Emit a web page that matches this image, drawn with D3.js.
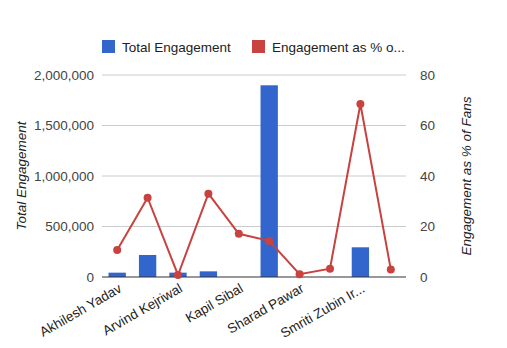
<!DOCTYPE html>
<html><head><meta charset="utf-8">
<script src="https://cdn.jsdelivr.net/npm/d3@7"></script>
<style>body{margin:0;background:#fff;}svg{display:block;font-family:Arial,"Liberation Sans",sans-serif;}</style>
</head><body>
<script>
const categories = ["Akhilesh Yadav","Arun Jaitley","Arvind Kejriwal","Digvijaya Singh","Kapil Sibal","Narendra Modi","Sharad Pawar","Shashi Tharoor","Smriti Zubin Irani","Sushma Swaraj"];
const shownLabels = ["Akhilesh Yadav","","Arvind Kejriwal","","Kapil Sibal","","Sharad Pawar","","Smriti Zubin Ir...",""];
const totalEngagement = [43000,218000,43000,56000,0,1898000,0,0,294000,0];
const engagementPct = [10.7,31.4,0.8,33.0,17.1,14.3,1.1,3.3,68.5,3.0];
const leftTicks = [0,500000,1000000,1500000,2000000];
const rightTicks = [0,20,40,60,80];
const seriesNames = ["Total Engagement","Engagement as % o..."];
const colors = ["#3366cc","#c8423f"];

const W=507,H=348, L=102, R=406, T=75, B=277, FS=13.5;
const svg=d3.select("body").append("svg").attr("width",W).attr("height",H);
const x=d3.scaleBand().domain(categories).range([L,R]).paddingInner(0.43).paddingOuter(0.215);
const yL=d3.scaleLinear().domain([0,2000000]).range([B,T]);
const yR=d3.scaleLinear().domain([0,80]).range([B,T]);

svg.append("g").selectAll("line").data(leftTicks.slice(1)).join("line")
 .attr("x1",L).attr("x2",R).attr("y1",d=>yL(d)).attr("y2",d=>yL(d))
 .attr("stroke","#cccccc").attr("stroke-width",1);

const fmt=d3.format(",");
svg.append("g").selectAll("text").data(leftTicks).join("text")
 .attr("x",94).attr("y",d=>yL(d)).attr("dy","0.35em").attr("text-anchor","end")
 .attr("font-size",FS).attr("fill","#444").text(d=>fmt(d));
svg.append("g").selectAll("text").data(rightTicks).join("text")
 .attr("x",420).attr("y",d=>yR(d)).attr("dy","0.35em").attr("text-anchor","start")
 .attr("font-size",FS).attr("fill","#444").text(d=>d);

svg.append("g").selectAll("rect").data(totalEngagement).join("rect")
 .attr("x",(d,i)=>x(categories[i])).attr("width",x.bandwidth())
 .attr("y",d=>yL(d)).attr("height",d=>B-yL(d)).attr("fill",colors[0]);

svg.append("line").attr("x1",L).attr("x2",R).attr("y1",B).attr("y2",B).attr("stroke","#333").attr("stroke-width",1.2);

const cx=i=>x(categories[i])+x.bandwidth()/2;
svg.append("path").datum(engagementPct)
 .attr("d",d3.line().x((d,i)=>cx(i)).y(d=>yR(d)))
 .attr("fill","none").attr("stroke",colors[1]).attr("stroke-width",2);
svg.append("g").selectAll("circle").data(engagementPct).join("circle")
 .attr("cx",(d,i)=>cx(i)).attr("cy",d=>yR(d)).attr("r",4).attr("fill",colors[1]);

svg.append("g").selectAll("text").data(shownLabels).join("text")
 .attr("transform",(d,i)=>`translate(${cx(i)+3},${B+10}) rotate(-30)`)
 .attr("text-anchor","end").attr("dy","0.35em").attr("font-size",FS).attr("fill","#222").text(d=>d);

svg.append("text").attr("transform",`translate(26,176) rotate(-90)`).attr("text-anchor","middle")
 .attr("font-size",FS).attr("font-style","italic").attr("fill","#222").text("Total Engagement");
svg.append("text").attr("transform",`translate(471,176) rotate(-90)`).attr("text-anchor","middle")
 .attr("font-size",FS).attr("font-style","italic").attr("fill","#222").text("Engagement as % of Fans");

const lg=svg.append("g");
const lx=[102,252];
seriesNames.forEach((n,i)=>{
  lg.append("rect").attr("x",lx[i]).attr("y",40).attr("width",13).attr("height",13).attr("fill",colors[i]);
  lg.append("text").attr("x",lx[i]+20).attr("y",47).attr("dy","0.35em").attr("font-size",FS).attr("fill","#222").text(n);
});
</script>
</body></html>
